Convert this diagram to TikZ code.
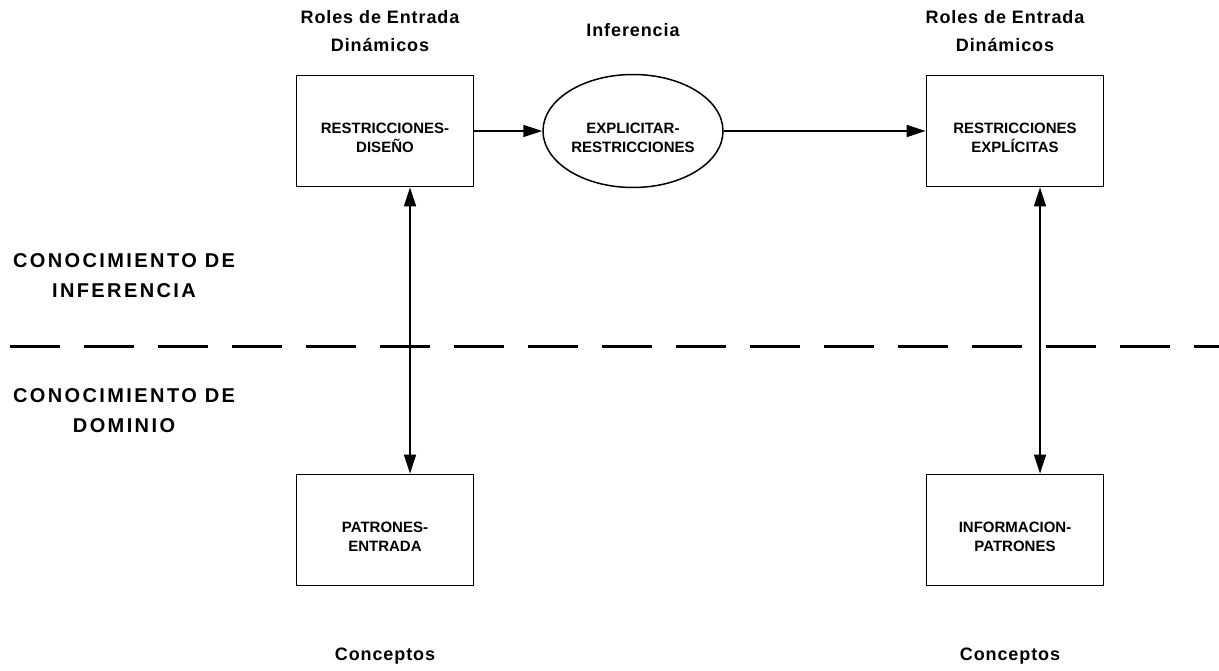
\documentclass[tikz,border=0pt]{standalone}
\usepackage{fontspec}
\setmainfont{Liberation Sans}
\usetikzlibrary{shapes.geometric,arrows.meta}
\newcommand{\arriba}{\rule{0pt}{24pt}}

\begin{document}
\begin{tikzpicture}[x=1pt,y=-1pt,
  caja/.style={draw,line width=1.8pt,minimum width=177pt,minimum height=111pt,inner sep=0pt,align=center,
    font=\bfseries\fontsize{15}{19}\selectfont},
  elipse/.style={caja,ellipse,line width=1.5pt,minimum width=180pt,minimum height=113pt},
  titulo/.style={align=center,font=\addfontfeature{LetterSpace=5}\bfseries\fontsize{18}{28}\selectfont},
  nivel/.style={align=center,font=\addfontfeature{LetterSpace=12}\bfseries\fontsize{20}{30}\selectfont},
  flecha/.style={line width=1.5pt,-{Triangle[length=19pt,width=12pt]}},
  doble/.style={line width=1.5pt,{Triangle[length=19pt,width=12pt]}-{Triangle[length=19pt,width=12pt]}}]
\useasboundingbox (0,0) rectangle (1219,671);

\node[titulo] (rol1) at (380,31) {Roles de Entrada\\Din\'amicos};
\node[titulo] (inf) at (633,30) {Inferencia};
\node[titulo] (rol2) at (1005,31) {Roles de Entrada\\Din\'amicos};
\node[nivel] (cinf) at (124,276) {CONOCIMIENTO DE\\INFERENCIA};
\node[nivel] (cdom) at (124,411) {CONOCIMIENTO DE\\DOMINIO};
\node[titulo] (con1) at (385,656) {Conceptos};
\node[titulo] (con2) at (1010,656) {Conceptos};

\node[caja] (rd) at (385,131) {\arriba RESTRICCIONES-\\DISEÑO};
\node[elipse] (er) at (633,131) {\arriba EXPLICITAR-\\RESTRICCIONES};
\node[caja] (re) at (1015,131) {\arriba RESTRICCIONES\\EXPLÍCITAS};
\node[caja] (pe) at (385,530) {\arriba PATRONES-\\ENTRADA};
\node[caja] (ip) at (1015,530) {\arriba INFORMACION-\\PATRONES};

\draw[flecha] (rd) -- (er);
\draw[flecha] (er) -- (re);
\draw[doble] ([xshift=25pt]rd.south) -- ([xshift=25pt]pe.north);
\draw[doble] ([xshift=25pt]re.south) -- ([xshift=25pt]ip.north);

\draw[line width=3pt,dash pattern=on 50pt off 24pt] (10,346) -- (1219,346);
\end{tikzpicture}
\end{document}
